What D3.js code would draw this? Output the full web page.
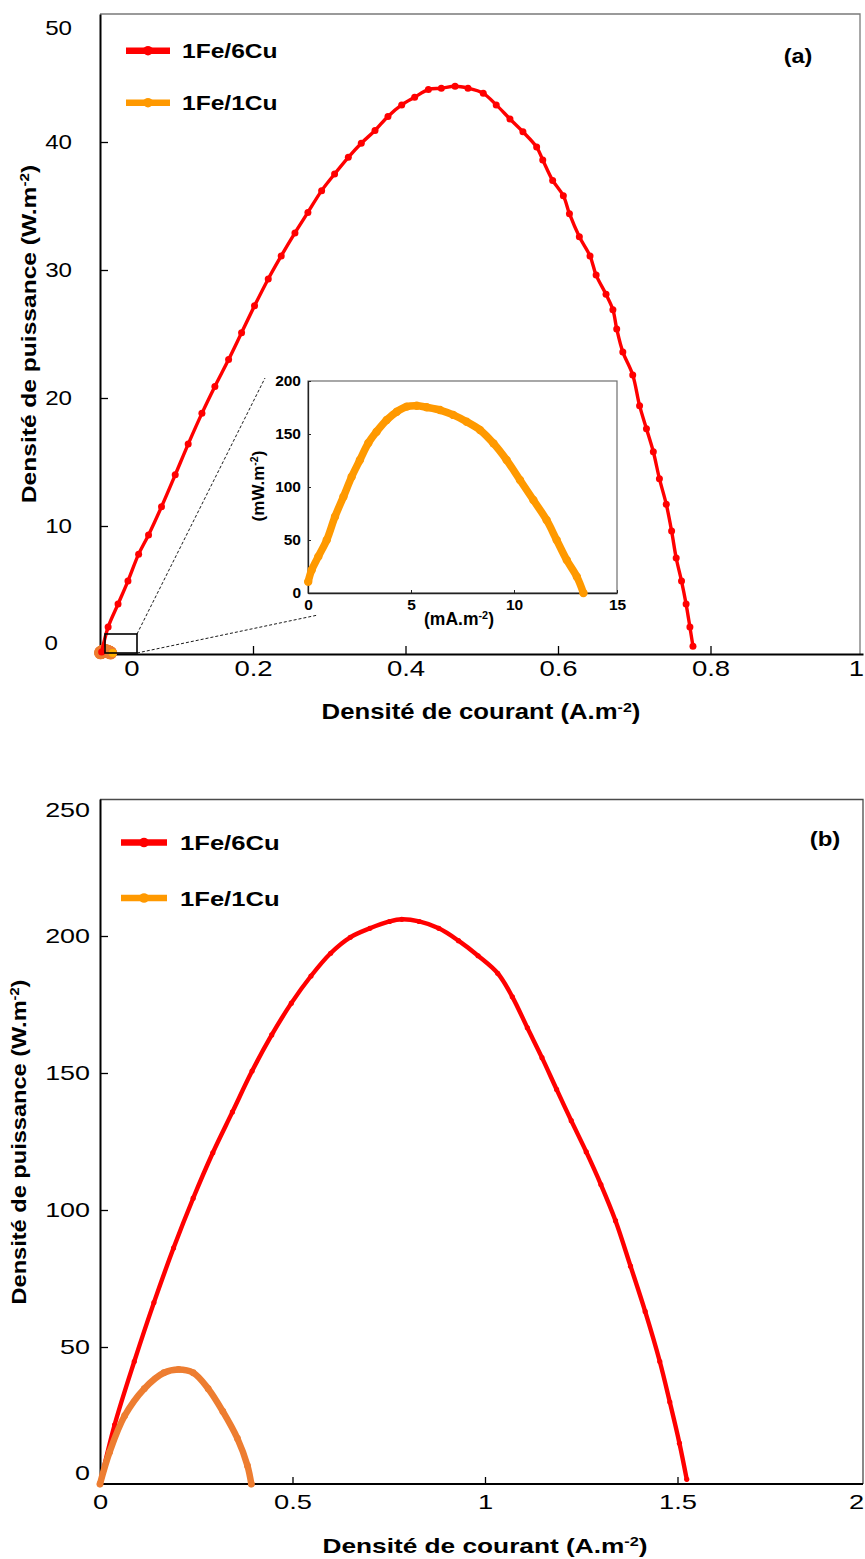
<!DOCTYPE html>
<html><head><meta charset="utf-8">
<script src="https://cdn.jsdelivr.net/npm/d3@7"></script>
<style>body{margin:0;background:#fff}svg{display:block}text{font-family:'Liberation Sans',Arial,sans-serif;fill:#000}</style>
</head><body><svg id="c" width="865" height="1559"></svg>
<script>
// ---------- DATA ----------
const seriesNames = ["1Fe/6Cu", "1Fe/1Cu"];
// Panel (a) 1Fe/6Cu : current density (A/m2) / power density (W/m2)
const a6J = [0.0015,0.010,0.023,0.036,0.050,0.063,0.080,0.098,0.115,0.133,0.150,0.168,0.185,0.202,0.220,0.237,0.255,0.272,0.290,0.307,0.325,0.342,0.360,0.377,0.395,0.412,0.430,0.447,0.465,0.482,0.502,0.519,0.537,0.554,0.572,0.580,0.593,0.607,0.615,0.628,0.642,0.650,0.663,0.672,0.677,0.685,0.698,0.707,0.716,0.725,0.733,0.742,0.749,0.755,0.762,0.768,0.773,0.777];
const a6P = [0.15,2.1,3.9,5.7,7.8,9.3,11.5,14.0,16.4,18.8,20.9,23.0,25.1,27.2,29.3,31.1,32.9,34.5,36.2,37.5,38.8,39.9,40.9,42.0,42.9,43.5,44.1,44.2,44.35,44.2,43.8,42.9,41.8,40.8,39.6,38.6,37.0,35.8,34.4,32.6,31.1,29.6,28.1,26.9,25.4,23.6,21.8,19.4,17.6,15.8,13.7,11.7,9.6,7.5,5.7,3.9,2.1,0.6];
// Panel (a) 1Fe/1Cu (inset) : mA/m2 / mW/m2
const a1J = [0.01,0.18,0.50,0.91,1.31,1.72,2.12,2.52,2.93,3.33,3.82,4.31,4.79,5.28,5.76,6.41,7.05,7.70,8.35,9.0,9.64,10.29,10.94,11.58,12.07,12.56,13.05,13.37];
const a1P = [10.7,21.7,34.3,50,72,90.8,109.7,125.5,141.5,152.2,163.2,171,175.8,176.7,175.2,172.6,168,161.6,153.8,141.2,125.5,106.6,87.7,68.9,50,31.1,15.4,0];
// Panel (b)
const b6J = [0,0.038,0.089,0.140,0.191,0.242,0.293,0.344,0.395,0.446,0.497,0.548,0.599,0.650,0.701,0.752,0.784,0.829,0.880,0.931,0.982,1.033,1.071,1.110,1.148,1.186,1.224,1.263,1.301,1.339,1.378,1.416,1.454,1.480,1.505,1.524];
const b6P = [0,21.6,44.7,66.2,86.1,104.3,120.9,135.8,150.7,163.9,175.5,185.4,193.7,199.5,202.8,205.3,206.1,205.3,202.8,198.3,192.8,186.4,177.8,166.5,155.6,144,132.6,121.2,109.3,96.1,79.5,63,44.7,29.9,14.9,1.7];
const b1J = [0,0.025,0.064,0.115,0.166,0.204,0.242,0.281,0.319,0.357,0.383,0.393];
const b1P = [0,11.7,24.9,34.8,40.6,41.8,40.6,34.8,26.5,16.6,6.7,0];
// ticks
const aXticks = [0,0.2,0.4,0.6,0.8,1];
const aYticks = [0,10,20,30,40,50];
const iXticks = [0,5,10,15];
const iYticks = [0,50,100,150,200];
const bXticks = [0,0.5,1,1.5,2];
const bYticks = [0,50,100,150,200,250];

// ---------- HELPERS ----------
const svg = d3.select('#c');
const zip = (X, Y, kx=1, ky=1) => X.map((x,i)=>({x:x*kx, y:Y[i]*ky}));
function widen(sel, f){ sel.each(function(){ const w=this.getComputedTextLength(); this.setAttribute('textLength', w*f); this.setAttribute('lengthAdjust','spacingAndGlyphs'); }); }
function supText(g, parts){
  const t = g.append('text');
  t.append('tspan').text(parts[0]);
  t.append('tspan').attr('font-size','62%').attr('dy','-0.55em').text(parts[1]);
  t.append('tspan').attr('dy','0.34em').text(parts[2]);
  return t;
}
function series(g, data, x, y, color, lw, r){
  g.append('path').datum(data).attr('fill','none').attr('stroke',color).attr('stroke-width',lw)
    .attr('stroke-linejoin','round').attr('stroke-linecap','round')
    .attr('d', d3.line().x(d=>x(d.x)).y(d=>y(d.y)).curve(d3.curveCatmullRom));
  g.selectAll(null).data(data).enter().append('circle').attr('cx',d=>x(d.x)).attr('cy',d=>y(d.y)).attr('r',r).attr('fill',color);
}
function legend(g, x0, x1, ys, colors, tx, fs, f){
  seriesNames.forEach((n,i)=>{
    g.append('line').attr('x1',x0).attr('x2',x1).attr('y1',ys[i]).attr('y2',ys[i]).attr('stroke',colors[i]).attr('stroke-width',6.5);
    g.append('circle').attr('cx',(x0+x1)/2).attr('cy',ys[i]).attr('r',4.8).attr('fill',colors[i]);
    const t = g.append('text').attr('x',tx).attr('y',ys[i]+7.5).attr('font-size',fs).attr('font-weight','bold').text(n);
    widen(t,f);
  });
}

// ---------- PANEL A ----------
const xA = d3.scaleLinear().domain([0,1]).range([100.5,863]);
const yA = d3.scaleLinear().domain([0,50]).range([654,14]);
const gA = svg.append('g');
gA.append('path').attr('d','M100,14H860V654').attr('fill','none').attr('stroke','#7a7a7a').attr('stroke-width',1.3);

const axA = gA.append('g').attr('transform','translate(0,654)')
  .call(d3.axisBottom(xA).tickValues(aXticks).tickSizeInner(-8).tickSizeOuter(0).tickPadding(6).tickFormat(d3.format('~g')));
axA.select('.domain').attr('stroke','#000').attr('stroke-width',2);
axA.selectAll('.tick line').attr('stroke','#000').attr('stroke-width',1.3).filter(d=>d===0||d===1).remove();
axA.selectAll('.tick text').attr('font-size',22).attr('font-family',"'Liberation Sans',Arial,sans-serif");
axA.selectAll('.tick text').filter(d=>d===0).attr('x',31);
axA.selectAll('.tick text').filter(d=>d===1).attr('x',-7);
widen(axA.selectAll('.tick text'),1.25);

const ayA = gA.append('g').attr('transform','translate(100,0)')
  .call(d3.axisLeft(yA).tickValues(aYticks).tickSizeInner(-8).tickSizeOuter(0).tickPadding(28));
ayA.select('.domain').attr('stroke','#000').attr('stroke-width',2);
ayA.selectAll('.tick line').attr('stroke','#000').attr('stroke-width',1.3).filter(d=>d===0||d===50).remove();
ayA.selectAll('.tick text').attr('font-size',21).attr('font-family',"'Liberation Sans',Arial,sans-serif");
ayA.selectAll('.tick text').filter(d=>d===50).attr('y',14);
ayA.selectAll('.tick text').filter(d=>d===0).attr('y',-11).attr('x',-42);
widen(ayA.selectAll('.tick text'),1.15);

// orange blob near origin (1Fe/1Cu at main scale)
gA.selectAll(null).data(zip(a1J,a1P,0.001,0.001)).enter().append('circle')
  .attr('cx',d=>xA(d.x)).attr('cy',d=>yA(d.y)-1).attr('r',6.5).attr('fill','#ED7D31');
gA.append('circle').datum({x:a1J[a1J.length-1]*0.001,y:0}).attr('cx',d=>xA(d.x)+2).attr('cy',d=>yA(d.y)-1).attr('r',4).attr('fill','#FFB000');

series(gA, zip(a6J,a6P), xA, yA, '#FF0000', 3.4, 3.5);

// zoom box and connector lines
gA.append('rect').attr('x',105).attr('y',634).attr('width',32).attr('height',19).attr('fill','none').attr('stroke','#000').attr('stroke-width',1.6);
gA.append('line').attr('x1',137).attr('y1',634).attr('x2',265).attr('y2',378).attr('stroke','#000').attr('stroke-width',0.9).attr('stroke-dasharray','3,2');
gA.append('line').attr('x1',137).attr('y1',653).attr('x2',318).attr('y2',615).attr('stroke','#000').attr('stroke-width',0.9).attr('stroke-dasharray','3,2');

// inset
const xI = d3.scaleLinear().domain([0,15]).range([308,617]);
const yI = d3.scaleLinear().domain([0,200]).range([593,381]);
const gI = gA.append('g');
gI.append('rect').attr('x',308).attr('y',381).attr('width',309).attr('height',212).attr('fill','#fff').attr('stroke','#6e6e6e').attr('stroke-width',1.2);
const axI = gI.append('g').attr('transform','translate(0,593)')
  .call(d3.axisBottom(xI).tickValues(iXticks).tickSizeInner(-3).tickSizeOuter(0).tickPadding(6));
const ayI = gI.append('g').attr('transform','translate(308,0)')
  .call(d3.axisLeft(yI).tickValues(iYticks).tickSizeInner(-3).tickSizeOuter(0).tickPadding(7));
[axI,ayI].forEach(a=>{
  a.select('.domain').attr('stroke','#222').attr('stroke-width',1.3);
  a.selectAll('.tick line').attr('stroke','#222');
  a.selectAll('.tick text').attr('font-size',15.5).attr('font-weight','bold').attr('font-family',"'DejaVu Sans',Verdana,sans-serif");
});
series(gI, zip(a1J,a1P), xI, yI, '#FF9900', 7.5, 4.2);
supText(gI,['(mA.m','-2',')']).attr('x',459).attr('y',625).attr('text-anchor','middle')
  .attr('font-size',17.5).attr('font-weight','bold').attr('font-family',"'DejaVu Sans',Verdana,sans-serif");
supText(gI,['(mW.m','-2',')']).attr('transform','translate(264,486) rotate(-90)').attr('text-anchor','middle')
  .attr('font-size',17).attr('font-weight','bold').attr('font-family',"'DejaVu Sans',Verdana,sans-serif");

legend(gA, 126, 170, [50.7,102.7], ['#FF0000','#FF9900'], 182, 21, 1.17);
widen(gA.append('text').attr('x',798).attr('y',63).attr('text-anchor','middle').attr('font-size',20).attr('font-weight','bold').text('(a)'),1.17);

supText(gA,['Densité de courant (A.m','-2',')']).attr('transform','translate(481,719) scale(1.17,1)').attr('text-anchor','middle')
  .attr('font-size',22).attr('font-weight','bold');
supText(gA,['Densité de puissance (W.m','-2',')']).attr('transform','translate(36,334) rotate(-90) scale(1.17,1)').attr('text-anchor','middle')
  .attr('font-size',21).attr('font-weight','bold');

// ---------- PANEL B ----------
const xB = d3.scaleLinear().domain([0,2]).range([100,870]);
const yB = d3.scaleLinear().domain([0,250]).range([1484,799]);
const gB = svg.append('g');
gB.append('path').attr('d','M100,799.5H863V1484').attr('fill','none').attr('stroke','#4a4a4a').attr('stroke-width',1.3);
const axB = gB.append('g').attr('transform','translate(0,1484)')
  .call(d3.axisBottom(xB).tickValues(bXticks).tickSizeInner(-7).tickSizeOuter(0).tickPadding(10.5).tickFormat(d3.format('~g')));
axB.select('.domain').attr('stroke','#000').attr('stroke-width',2).attr('d','M100,0H863');
axB.selectAll('.tick line').attr('stroke','#000').attr('stroke-width',1.3).filter(d=>d===0||d===2).remove();
axB.selectAll('.tick text').attr('font-size',21).attr('font-family',"'Liberation Sans',Arial,sans-serif");
axB.selectAll('.tick text').filter(d=>d===2).attr('x',-14);
widen(axB.selectAll('.tick text'),1.3);
const ayB = gB.append('g').attr('transform','translate(100,0)')
  .call(d3.axisLeft(yB).tickValues(bYticks).tickSizeInner(-8).tickSizeOuter(0).tickPadding(10));
ayB.select('.domain').attr('stroke','#000').attr('stroke-width',2);
ayB.selectAll('.tick line').attr('stroke','#000').attr('stroke-width',1.3).filter(d=>d===0||d===250).remove();
ayB.selectAll('.tick text').attr('font-size',21).attr('font-family',"'Liberation Sans',Arial,sans-serif");
ayB.selectAll('.tick text').filter(d=>d===250).attr('y',11);
ayB.selectAll('.tick text').filter(d=>d===0).attr('y',-11);
widen(ayB.selectAll('.tick text'),1.28);

series(gB, zip(b6J,b6P), xB, yB, '#FF0000', 4.4, 2.6);
series(gB, zip(b1J,b1P), xB, yB, '#ED7D31', 6.5, 3.4);

legend(gB, 121, 167, [842.5,898], ['#FF0000','#FF9900'], 180, 20, 1.28);
widen(gB.append('text').attr('x',825).attr('y',846).attr('text-anchor','middle').attr('font-size',20).attr('font-weight','bold').text('(b)'),1.2);
supText(gB,['Densité de courant (A.m','-2',')']).attr('transform','translate(485,1553) scale(1.25,1)').attr('text-anchor','middle')
  .attr('font-size',21).attr('font-weight','bold');
supText(gB,['Densité de puissance (W.m','-2',')']).attr('transform','translate(26,1142) rotate(-90) scale(1.18,1)').attr('text-anchor','middle')
  .attr('font-size',20).attr('font-weight','bold');
</script></body></html>
